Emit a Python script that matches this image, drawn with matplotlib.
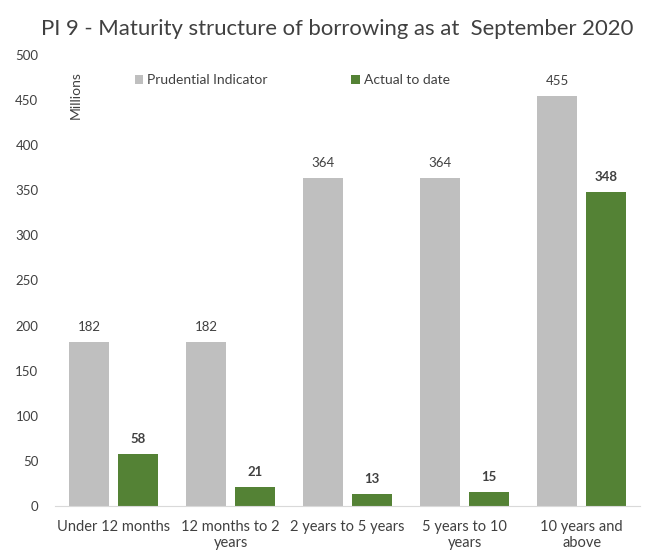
import matplotlib
matplotlib.use("Agg")
import matplotlib.pyplot as plt
import numpy as np

categories = ["Under 12 months", "12 months to 2\nyears", "2 years to 5 years",
              "5 years to 10\nyears", "10 years and\nabove"]
prudential = [182, 182, 364, 364, 455]
actual = [58, 21, 13, 15, 348]

plt.rcParams['font.family'] = ['Lato', 'DejaVu Sans']

fig = plt.figure(figsize=(6.48, 5.51), dpi=100)
ax = fig.add_axes([0.085, 0.082, 0.903, 0.818])

x = np.arange(len(categories))
w = 0.34
gap = 0.08
b1 = ax.bar(x - (w + gap) / 2, prudential, w, color="#BFBFBF", label="Prudential Indicator")
b2 = ax.bar(x + (w + gap) / 2, actual, w, color="#548235", label="Actual to date")

for r, v in zip(b1, prudential):
    ax.text(r.get_x() + r.get_width() / 2, v + 10, f"{v}", ha="center", va="bottom",
            fontsize=9.5, color="#404040")
for r, v in zip(b2, actual):
    ax.text(r.get_x() + r.get_width() / 2, v + 10, f"{v}", ha="center", va="bottom",
            fontsize=9.5, color="#404040", fontweight="bold")

ax.set_xlim(-0.5, 4.5)
ax.set_ylim(0, 500)
ax.set_yticks(range(0, 501, 50))
ax.set_xticks(x)
ax.set_xticklabels(categories, fontsize=10.5, color="#404040", linespacing=1.2)
ax.tick_params(axis="y", labelsize=9.5, colors="#404040", length=0, pad=12)
ax.tick_params(axis="x", length=0, pad=10)
for s in ["top", "right", "left"]:
    ax.spines[s].set_visible(False)
ax.spines["bottom"].set_color("#D9D9D9")

ax.text(0.035, 0.965, "Millions", transform=ax.transAxes, rotation=90, ha="center", va="top",
        fontsize=10, color="#404040")

leg = ax.legend(loc="upper left", bbox_to_anchor=(0.115, 0.985), ncol=2, frameon=False,
                fontsize=10, handlelength=0.6, handleheight=0.6, handletextpad=0.3,
                columnspacing=6.0)
for t in leg.get_texts():
    t.set_color("#404040")

fig.text(0.521, 0.948, "PI 9 - Maturity structure of borrowing as at  September 2020",
         ha="center", va="center", fontsize=15.9, color="#404040")

fig.savefig("out.png", dpi=100)
